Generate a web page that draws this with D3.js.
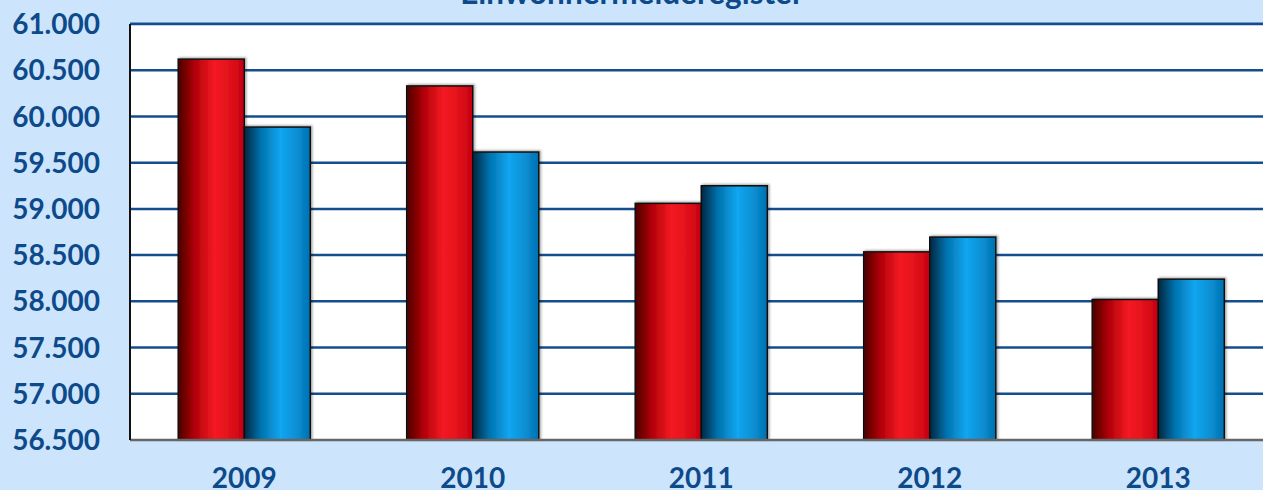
<!DOCTYPE html>
<html><head><meta charset="utf-8">
<script src="https://cdn.jsdelivr.net/npm/d3@7/dist/d3.min.js"></script>
<style>html,body{margin:0;padding:0;background:#cce5fc;overflow:hidden}</style>
</head><body><svg id="c" width="1263" height="490"></svg>
<script>
const title = "Einwohnermelderegister";
const years = ["2009","2010","2011","2012","2013"];
const seriesA = [60620, 60330, 59060, 58535, 58020];
const seriesB = [59885, 59615, 59250, 58695, 58240];
const yTicks = [56500,57000,57500,58000,58500,59000,59500,60000,60500,61000];

const svg = d3.select("#c");
const m = {l:130, t:24, b:440};
const plotRight = 1272.5;
const font = "Lato, 'Open Sans', sans-serif";
const txt = "#0e4a8a";

const x = d3.scaleBand().domain(years).range([m.l, plotRight]).paddingInner(0).paddingOuter(0);
const y = d3.scaleLinear().domain([56500, 61000]).range([m.b, m.t]);
const groupW = x.bandwidth()*0.578;
const x1 = d3.scaleBand().domain(["A","B"]).range([0, groupW]);

const defs = svg.append("defs");
function grad(id, stops){
  const g = defs.append("linearGradient").attr("id",id).attr("x1","0%").attr("x2","100%").attr("y1","0").attr("y2","0");
  stops.forEach(s=>g.append("stop").attr("offset",s[0]).attr("stop-color",s[1]));
}
grad("gRed", [["0%","#4a0000"],["25%","#b00008"],["55%","#f41a22"],["80%","#e0101a"],["100%","#c40010"]]);
grad("gBlue", [["0%","#00263f"],["25%","#0072ad"],["55%","#12a6f0"],["80%","#0a8ed2"],["100%","#0070b0"]]);
const f = defs.append("filter").attr("id","sh").attr("x","-10%").attr("y","-10%").attr("width","130%").attr("height","130%");
f.append("feDropShadow").attr("dx",1.5).attr("dy",-1).attr("stdDeviation",1).attr("flood-color","#000").attr("flood-opacity",0.35);

// plot background
svg.append("rect").attr("x",m.l).attr("y",m.t).attr("width",plotRight-m.l).attr("height",m.b-m.t).attr("fill","#fff");

// gridlines
svg.append("line").attr("x1",m.l).attr("x2",plotRight).attr("y1",m.t-1.5).attr("y2",m.t-1.5).attr("stroke","#8fb8e6").attr("stroke-width",1);
svg.append("g").selectAll("line").data(yTicks.filter(d=>d>56500)).join("line")
  .attr("x1",m.l).attr("x2",plotRight).attr("y1",d=>y(d)).attr("y2",d=>y(d))
  .attr("stroke","#144c8c").attr("stroke-width",2.5);

// bars
const g = svg.append("g");
years.forEach((yr,i)=>{
  const gx = x(yr) + (x.bandwidth()-groupW)/2;
  [["A",seriesA[i],"url(#gRed)"],["B",seriesB[i],"url(#gBlue)"]].forEach(([k,v,fill])=>{
    g.append("rect").attr("x",gx+x1(k)).attr("y",y(v)).attr("width",x1.bandwidth()).attr("height",m.b-y(v))
      .attr("fill",fill).attr("stroke","#111").attr("stroke-width",1.5).attr("filter","url(#sh)");
  });
});

// axes lines
svg.append("line").attr("x1",m.l).attr("x2",plotRight).attr("y1",m.b).attr("y2",m.b).attr("stroke","#666").attr("stroke-width",2.5);
svg.append("line").attr("x1",m.l).attr("x2",m.l).attr("y1",m.t).attr("y2",m.b).attr("stroke","#111").attr("stroke-width",2);

// y labels
svg.append("g").selectAll("text").data(yTicks).join("text")
  .attr("x",100).attr("y",d=>y(d)).attr("dy","0.36em").attr("text-anchor","end")
  .attr("font-family",font).attr("font-weight","bold").attr("font-size",28).attr("fill",txt)
  .text(d=>(d/1000).toFixed(3));

// x labels
svg.append("g").selectAll("text").data(years).join("text")
  .attr("x",d=>x(d)+x.bandwidth()/2).attr("y",488).attr("text-anchor","middle")
  .attr("font-family",font).attr("font-weight","bold").attr("font-size",28).attr("fill",txt)
  .text(d=>d);

// title
svg.append("text").attr("x",632).attr("y",3.5).attr("text-anchor","middle")
  .attr("font-family",font).attr("font-weight","bold").attr("font-size",31.5).attr("fill",txt)
  .text(title);
</script></body></html>
